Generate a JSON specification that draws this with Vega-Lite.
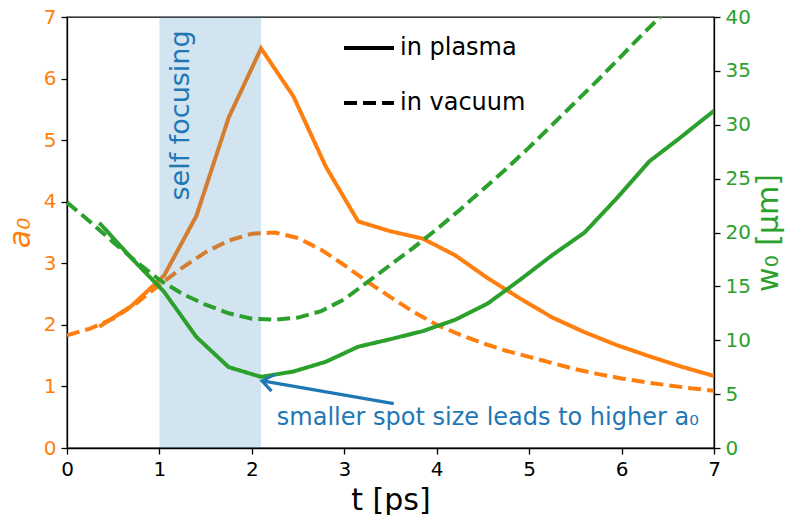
{
  "$schema": "https://vega.github.io/schema/vega-lite/v6.json",
  "width": 647,
  "height": 431,
  "autosize": "none",
  "padding": {"left": 67, "top": 17, "right": 73, "bottom": 67},
  "background": "white",
  "config": {
    "font": "DejaVu Sans",
    "view": {"stroke": "black", "strokeWidth": 1.3},
    "axis": {
      "grid": false,
      "domainColor": "black",
      "domainWidth": 1.3,
      "tickColor": "black",
      "tickSize": 6,
      "tickWidth": 1.3,
      "labelFont": "DejaVu Sans",
      "labelFontSize": 20,
      "labelPadding": 5,
      "labelFlush": false,
      "format": "d",
      "titleFont": "DejaVu Sans",
      "titleFontWeight": "normal"
    }
  },
  "datasets": {
    "a0_series": [
      {"t": 0.0, "a0": 1.83, "medium": "in vacuum"},
      {"t": 0.25, "a0": 1.94, "medium": "in vacuum"},
      {"t": 0.5, "a0": 2.1, "medium": "in vacuum"},
      {"t": 0.75, "a0": 2.35, "medium": "in vacuum"},
      {"t": 1.0, "a0": 2.65, "medium": "in vacuum"},
      {"t": 1.25, "a0": 2.93, "medium": "in vacuum"},
      {"t": 1.5, "a0": 3.18, "medium": "in vacuum"},
      {"t": 1.75, "a0": 3.37, "medium": "in vacuum"},
      {"t": 2.0, "a0": 3.48, "medium": "in vacuum"},
      {"t": 2.25, "a0": 3.5, "medium": "in vacuum"},
      {"t": 2.5, "a0": 3.41, "medium": "in vacuum"},
      {"t": 2.75, "a0": 3.22, "medium": "in vacuum"},
      {"t": 3.0, "a0": 2.97, "medium": "in vacuum"},
      {"t": 3.25, "a0": 2.7, "medium": "in vacuum"},
      {"t": 3.5, "a0": 2.45, "medium": "in vacuum"},
      {"t": 3.75, "a0": 2.21, "medium": "in vacuum"},
      {"t": 4.0, "a0": 2.0, "medium": "in vacuum"},
      {"t": 4.25, "a0": 1.84, "medium": "in vacuum"},
      {"t": 4.5, "a0": 1.7, "medium": "in vacuum"},
      {"t": 4.75, "a0": 1.58, "medium": "in vacuum"},
      {"t": 5.0, "a0": 1.48, "medium": "in vacuum"},
      {"t": 5.25, "a0": 1.38, "medium": "in vacuum"},
      {"t": 5.5, "a0": 1.28, "medium": "in vacuum"},
      {"t": 5.75, "a0": 1.2, "medium": "in vacuum"},
      {"t": 6.0, "a0": 1.13, "medium": "in vacuum"},
      {"t": 6.25, "a0": 1.07, "medium": "in vacuum"},
      {"t": 6.5, "a0": 1.02, "medium": "in vacuum"},
      {"t": 6.75, "a0": 0.97, "medium": "in vacuum"},
      {"t": 7.0, "a0": 0.93, "medium": "in vacuum"},
      {"t": 0.35, "a0": 1.97, "medium": "in plasma"},
      {"t": 0.7, "a0": 2.31, "medium": "in plasma"},
      {"t": 1.05, "a0": 2.8, "medium": "in plasma"},
      {"t": 1.4, "a0": 3.77, "medium": "in plasma"},
      {"t": 1.75, "a0": 5.37, "medium": "in plasma"},
      {"t": 2.1, "a0": 6.49, "medium": "in plasma"},
      {"t": 2.45, "a0": 5.71, "medium": "in plasma"},
      {"t": 2.8, "a0": 4.57, "medium": "in plasma"},
      {"t": 3.15, "a0": 3.68, "medium": "in plasma"},
      {"t": 3.5, "a0": 3.52, "medium": "in plasma"},
      {"t": 3.85, "a0": 3.4, "medium": "in plasma"},
      {"t": 4.2, "a0": 3.13, "medium": "in plasma"},
      {"t": 4.55, "a0": 2.76, "medium": "in plasma"},
      {"t": 4.9, "a0": 2.43, "medium": "in plasma"},
      {"t": 5.25, "a0": 2.12, "medium": "in plasma"},
      {"t": 5.6, "a0": 1.88, "medium": "in plasma"},
      {"t": 5.95, "a0": 1.67, "medium": "in plasma"},
      {"t": 6.3, "a0": 1.49, "medium": "in plasma"},
      {"t": 6.65, "a0": 1.32, "medium": "in plasma"},
      {"t": 7.0, "a0": 1.17, "medium": "in plasma"}
    ],
    "w0_series": [
      {"t": 0.0, "w0": 22.8, "medium": "in vacuum"},
      {"t": 0.25, "w0": 21.0, "medium": "in vacuum"},
      {"t": 0.5, "w0": 19.1, "medium": "in vacuum"},
      {"t": 0.75, "w0": 17.3, "medium": "in vacuum"},
      {"t": 1.0, "w0": 15.6, "medium": "in vacuum"},
      {"t": 1.25, "w0": 14.3, "medium": "in vacuum"},
      {"t": 1.5, "w0": 13.3, "medium": "in vacuum"},
      {"t": 1.75, "w0": 12.5, "medium": "in vacuum"},
      {"t": 2.0, "w0": 12.0, "medium": "in vacuum"},
      {"t": 2.25, "w0": 11.9, "medium": "in vacuum"},
      {"t": 2.5, "w0": 12.1, "medium": "in vacuum"},
      {"t": 2.75, "w0": 12.7, "medium": "in vacuum"},
      {"t": 3.0, "w0": 13.8, "medium": "in vacuum"},
      {"t": 3.25, "w0": 15.4, "medium": "in vacuum"},
      {"t": 3.5, "w0": 17.0, "medium": "in vacuum"},
      {"t": 3.75, "w0": 18.6, "medium": "in vacuum"},
      {"t": 4.0, "w0": 20.3, "medium": "in vacuum"},
      {"t": 4.25, "w0": 22.1, "medium": "in vacuum"},
      {"t": 4.5, "w0": 24.0, "medium": "in vacuum"},
      {"t": 4.75, "w0": 25.9, "medium": "in vacuum"},
      {"t": 5.0, "w0": 27.9, "medium": "in vacuum"},
      {"t": 5.25, "w0": 30.0, "medium": "in vacuum"},
      {"t": 5.5, "w0": 32.1, "medium": "in vacuum"},
      {"t": 5.75, "w0": 34.2, "medium": "in vacuum"},
      {"t": 6.0, "w0": 36.4, "medium": "in vacuum"},
      {"t": 6.25, "w0": 38.6, "medium": "in vacuum"},
      {"t": 6.5, "w0": 40.7, "medium": "in vacuum"},
      {"t": 0.35, "w0": 20.9, "medium": "in plasma"},
      {"t": 0.7, "w0": 17.6, "medium": "in plasma"},
      {"t": 1.05, "w0": 14.5, "medium": "in plasma"},
      {"t": 1.4, "w0": 10.3, "medium": "in plasma"},
      {"t": 1.75, "w0": 7.5, "medium": "in plasma"},
      {"t": 2.1, "w0": 6.6, "medium": "in plasma"},
      {"t": 2.45, "w0": 7.1, "medium": "in plasma"},
      {"t": 2.8, "w0": 8.0, "medium": "in plasma"},
      {"t": 3.15, "w0": 9.4, "medium": "in plasma"},
      {"t": 3.5, "w0": 10.1, "medium": "in plasma"},
      {"t": 3.85, "w0": 10.85, "medium": "in plasma"},
      {"t": 4.2, "w0": 11.9, "medium": "in plasma"},
      {"t": 4.55, "w0": 13.4, "medium": "in plasma"},
      {"t": 4.9, "w0": 15.6, "medium": "in plasma"},
      {"t": 5.25, "w0": 17.9, "medium": "in plasma"},
      {"t": 5.6, "w0": 20.0, "medium": "in plasma"},
      {"t": 5.95, "w0": 23.2, "medium": "in plasma"},
      {"t": 6.3, "w0": 26.6, "medium": "in plasma"},
      {"t": 6.65, "w0": 28.9, "medium": "in plasma"},
      {"t": 7.0, "w0": 31.3, "medium": "in plasma"}
    ]
  },
  "layer": [
    {
      "layer": [
        {
          "data": {"name": "a0_series"},
          "mark": {"type": "line", "color": "#ff7f0e", "strokeWidth": 4, "clip": true},
          "encoding": {
            "x": {
              "field": "t", "type": "quantitative",
              "scale": {"domain": [0, 7], "nice": false},
              "title": "t [ps]",
              "axis": {"values": [0, 1, 2, 3, 4, 5, 6, 7], "labelColor": "black", "titleFontSize": 30, "titleColor": "black", "titlePadding": 6}
            },
            "y": {
              "field": "a0", "type": "quantitative",
              "scale": {"domain": [0, 7], "nice": false},
              "title": "a₀",
              "axis": {"values": [0, 1, 2, 3, 4, 5, 6, 7], "labelColor": "#ff7f0e", "titleColor": "#ff7f0e", "titleFontSize": 30, "titleFontStyle": "italic", "titlePadding": 8}
            },
            "strokeDash": {
              "field": "medium", "type": "nominal",
              "scale": {"domain": ["in plasma", "in vacuum"], "range": [[1, 0], [13, 6]]},
              "legend": {
                "orient": "none", "legendX": 275, "legendY": 4, "title": null,
                "symbolType": "stroke", "symbolSize": 2500, "symbolStrokeWidth": 4,
                "symbolStrokeColor": "black", "labelFontSize": 24, "labelColor": "black",
                "labelOffset": 4, "rowPadding": 16, "padding": 0
              }
            }
          }
        },
        {
          "data": {"values": [{"start": 1.0, "end": 2.1}]},
          "mark": {"type": "rect", "color": "#1f77b4", "opacity": 0.2},
          "encoding": {
            "x": {"field": "start", "type": "quantitative", "title": "t [ps]"},
            "x2": {"field": "end"}
          }
        }
      ]
    },
    {
      "data": {"name": "w0_series"},
      "mark": {"type": "line", "color": "#2ca02c", "strokeWidth": 4, "clip": true},
      "encoding": {
        "x": {"field": "t", "type": "quantitative", "title": "t [ps]"},
        "y": {
          "field": "w0", "type": "quantitative",
          "scale": {"domain": [0, 40], "nice": false},
          "title": "w₀ [μm]",
          "axis": {"orient": "right", "values": [0, 5, 10, 15, 20, 25, 30, 35, 40], "labelColor": "#2ca02c", "titleColor": "#2ca02c", "titleFontSize": 30, "titleAngle": 270, "titleBaseline": "top", "titlePadding": 3}
        },
        "strokeDash": {
          "field": "medium", "type": "nominal",
          "scale": {"domain": ["in plasma", "in vacuum"], "range": [[1, 0], [13, 6]]},
          "legend": {
            "orient": "none", "legendX": 275, "legendY": 4, "title": null,
            "symbolType": "stroke", "symbolSize": 2500, "symbolStrokeWidth": 4,
            "symbolStrokeColor": "black", "labelFontSize": 24, "labelColor": "black",
            "labelOffset": 4, "rowPadding": 16, "padding": 0
          }
        }
      }
    },
    {
      "layer": [
        {
          "data": {"values": [{"t": 1.32, "a": 4.02, "note": "self focusing"}]},
          "mark": {"type": "text", "angle": 270, "align": "left", "baseline": "alphabetic", "fontSize": 27, "color": "#1f77b4"},
          "encoding": {
            "x": {"field": "t", "type": "quantitative", "title": "t [ps]"},
            "y": {"field": "a", "type": "quantitative", "scale": {"domain": [0, 7], "nice": false}, "axis": null},
            "text": {"field": "note"}
          }
        },
        {
          "data": {"values": [{"t": 2.27, "a": 0.37, "note": "smaller spot size leads to higher a₀"}]},
          "mark": {"type": "text", "align": "left", "baseline": "alphabetic", "fontSize": 24, "color": "#1f77b4"},
          "encoding": {
            "x": {"field": "t", "type": "quantitative", "title": "t [ps]"},
            "y": {"field": "a", "type": "quantitative", "axis": null},
            "text": {"field": "note"}
          }
        },
        {
          "data": {"values": [{"t": 3.535, "a": 0.72, "t_end": 2.13, "a_end": 1.085}]},
          "mark": {"type": "rule", "color": "#1f77b4", "strokeWidth": 3.2},
          "encoding": {
            "x": {"field": "t", "type": "quantitative", "title": "t [ps]"},
            "y": {"field": "a", "type": "quantitative", "axis": null},
            "x2": {"field": "t_end"},
            "y2": {"field": "a_end"}
          }
        },
        {
          "data": {"values": [{"t": 2.11, "a": 1.09}]},
          "mark": {
            "type": "point", "shape": "M -1 -0.75 L 0 0 L -1 0.75",
            "filled": false, "size": 500, "angle": 190,
            "stroke": "#1f77b4", "strokeWidth": 3.2, "opacity": 1
          },
          "encoding": {
            "x": {"field": "t", "type": "quantitative", "title": "t [ps]"},
            "y": {"field": "a", "type": "quantitative", "axis": null}
          }
        }
      ]
    }
  ],
  "resolve": {"scale": {"y": "independent"}}
}
